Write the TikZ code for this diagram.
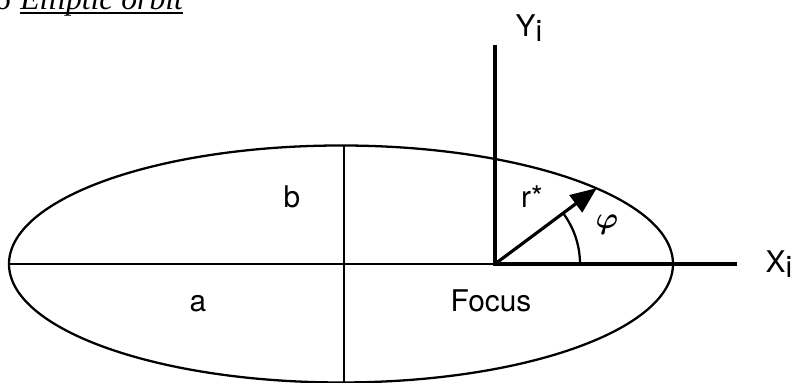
\documentclass[tikz,border=0pt]{standalone}
\usepackage{amsmath}
\usepackage{fontspec}
\setmainfont{Liberation Serif}
\setsansfont{TeX Gyre Heros}
\usetikzlibrary{arrows.meta,calc}
\tikzset{>={Triangle[length=15pt,width=12pt]}}

\begin{document}
\begin{tikzpicture}[
   orb/.style={line width=1.3pt},
   ax/.style={line width=2.4pt,line join=miter},
   vec/.style={->,line width=1.8pt},
   lbl/.style={font=\sffamily\fontsize{17}{20}\selectfont,inner sep=0},
   ttlfont/.style={font=\itshape\fontsize{18}{20}\selectfont,inner sep=0}]
  \useasboundingbox (0,0) rectangle (15.92,7.66);
  \clip (0,0) rectangle (15.92,7.66);
  % caption, cut off at the top
  \node[ttlfont,anchor=base west] (ttl) at (0.4,7.46) {Elliptic orbit};
  \node[ttlfont,anchor=base east] (num) at ([xshift=-5pt]ttl.base west) {6};
  \draw[line width=1.1pt] ([yshift=-1.5pt]ttl.base west) -- ([yshift=-1.5pt]ttl.base east);
  % orbit and axes
  \coordinate (C) at (6.82,2.38);
  \coordinate (F) at (9.9,2.38);
  \coordinate (Y) at (9.9,6.76);
  \coordinate (X) at (14.74,2.38);
  \coordinate (P) at ($(F)+(36.7:2.54)$);
  \draw[orb] (C) ellipse [x radius=6.64,y radius=2.37];
  \draw[orb] ($(C)+(0.06,2.37)$) -- ($(C)+(0.06,-2.4)$);
  \draw[orb] ($(C)+(-6.64,0)$) -- (F);
  \draw[ax] (Y) |- (X);
  \draw[orb] ($(F)+(1.7,0)$) arc[start angle=0,end angle=36.7,radius=1.7];
  \draw[vec] (F) -- (P);
  % labels
  \node[lbl,anchor=base] (yl) at (10.58,6.92) {Y\raisebox{-0.3ex}{i}};
  \node[lbl,anchor=base] (xl) at (15.58,2.2) {X\raisebox{-0.3ex}{i}};
  \node[lbl,anchor=base] (bl) at (5.84,3.5) {b};
  \node[lbl,anchor=base] (al) at (3.96,1.42) {a};
  \node[lbl,anchor=base] (fl) at (9.82,1.42) {Focus};
  \node[lbl,anchor=base] (rl) at (10.64,3.5) {r*};
  \node[font=\fontsize{19}{22}\selectfont,inner sep=0] (phl) at (12.14,3.16) {$\boldsymbol{\varphi}$};
\end{tikzpicture}
\end{document}
